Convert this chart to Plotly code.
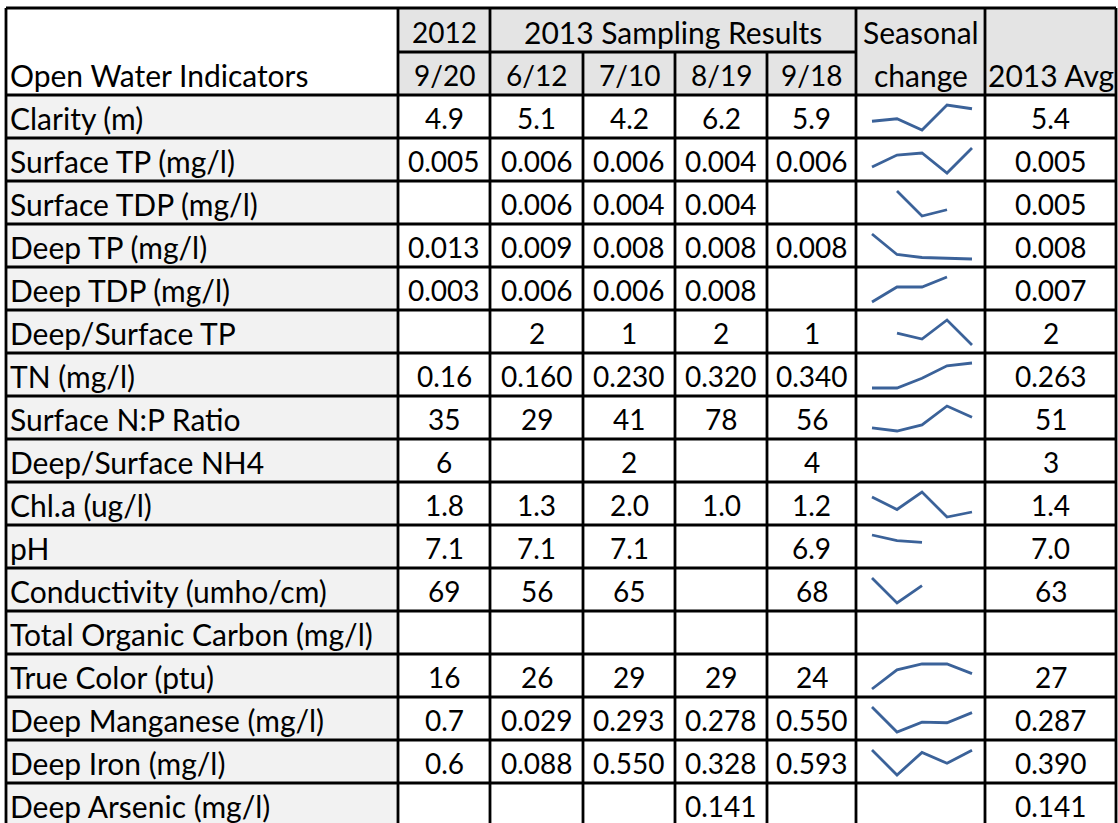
import plotly.graph_objects as go

# ---------------- data ----------------
indicators = [
    "Clarity (m)", "Surface TP (mg/l)", "Surface TDP (mg/l)", "Deep TP (mg/l)",
    "Deep TDP (mg/l)", "Deep/Surface TP", "TN (mg/l)", "Surface N:P Ratio",
    "Deep/Surface NH4", "Chl.a (ug/l)", "pH", "Conductivity (umho/cm)",
    "Total Organic Carbon (mg/l)", "True Color (ptu)", "Deep Manganese (mg/l)",
    "Deep Iron (mg/l)", "Deep Arsenic (mg/l)",
]
dates = ["9/20", "6/12", "7/10", "8/19", "9/18"]
year_2012 = "2012"
group_2013 = "2013 Sampling Results"

val_0920_2012 = ["4.9", "0.005", "", "0.013", "0.003", "", "0.16", "35", "6", "1.8",
                 "7.1", "69", "", "16", "0.7", "0.6", ""]
val_0612 = ["5.1", "0.006", "0.006", "0.009", "0.006", "2", "0.160", "29", "", "1.3",
            "7.1", "56", "", "26", "0.029", "0.088", ""]
val_0710 = ["4.2", "0.006", "0.004", "0.008", "0.006", "1", "0.230", "41", "2", "2.0",
            "7.1", "65", "", "29", "0.293", "0.550", ""]
val_0819 = ["6.2", "0.004", "0.004", "0.008", "0.008", "2", "0.320", "78", "", "1.0",
            "", "", "", "29", "0.278", "0.328", "0.141"]
val_0918 = ["5.9", "0.006", "", "0.008", "", "1", "0.340", "56", "4", "1.2",
            "6.9", "68", "", "24", "0.550", "0.593", ""]
avg_2013 = ["5.4", "0.005", "0.005", "0.008", "0.007", "2", "0.263", "51", "3", "1.4",
            "7.0", "63", "", "27", "0.287", "0.390", "0.141"]

# unrounded values behind the seasonal-change sparklines (None = empty cell)
N = None
spark_clarity = [4.9, 5.1, 4.2, 6.2, 5.9]
spark_surf_tp = [0.00468, 0.00564, 0.0058, 0.0042, 0.0062]
spark_surf_tdp = [N, 0.0060, 0.0040, 0.0045, N]
spark_deep_tp = [0.013, 0.0089, 0.0083, 0.0081, 0.0080]
spark_deep_tdp = [0.003, 0.006, 0.006, 0.008, N]
spark_ds_tp = [N, 1.52, 1.21, 2.2, 0.9]
spark_tn = [0.16, 0.160, 0.230, 0.320, 0.340]
spark_np = [35, 29, 41, 78, 56]
spark_nh4 = [6, N, 2, N, 4]
spark_chla = [1.8, 1.3, 2.0, 1.0, 1.2]
spark_ph = [7.12, 7.07, 7.055, N, 6.9]
spark_cond = [69, 56, 65, N, 68]
spark_toc = [N, N, N, N, N]
spark_color = [16, 26, 29, 29, 24]
spark_mn = [0.7, 0.029, 0.293, 0.278, 0.550]
spark_fe = [0.6, 0.088, 0.550, 0.328, 0.593]
spark_as = [N, N, N, 0.141, N]

sparks = [spark_clarity, spark_surf_tp, spark_surf_tdp, spark_deep_tp, spark_deep_tdp,
          spark_ds_tp, spark_tn, spark_np, spark_nh4, spark_chla, spark_ph, spark_cond,
          spark_toc, spark_color, spark_mn, spark_fe, spark_as]

# ---------------- layout geometry ----------------
W, H = 1118, 823
col_edges = [6, 398, 490, 583, 675, 767, 856, 985, 1116]
hdr_top, hdr_mid, hdr_bot = 8, 52, 95
row_h = 43
FONT = "Lato"
FS_TXT = 30
FS_NUM = 28
HDR_FILL = "#E4E4E4"
LBL_FILL = "#F2F2F2"
LINE_W = 2.8
SPARK_COLOR = "#3B6299"

fig = go.Figure()
shapes = []
annotations = []


def rect(x0, y0, x1, y1, fill):
    shapes.append(dict(type="rect", xref="x", yref="y", x0=x0, x1=x1, y0=y0, y1=y1,
                       fillcolor=fill, line=dict(width=0), layer="below"))


def line(x0, y0, x1, y1):
    shapes.append(dict(type="line", xref="x", yref="y", x0=x0, x1=x1, y0=y0, y1=y1,
                       line=dict(color="black", width=LINE_W), layer="above"))


def text(x, y, s, anchor="center", size=FS_TXT):
    annotations.append(dict(x=x, y=y, xref="x", yref="y", text=s, showarrow=False,
                            xanchor=anchor, yanchor="middle",
                            font=dict(family=FONT, size=size, color="black")))


n_rows = len(indicators)
row_tops = [hdr_bot + i * row_h for i in range(n_rows)]
bottom = hdr_bot + n_rows * row_h

# header fills
rect(col_edges[1], hdr_top, col_edges[8], hdr_bot, HDR_FILL)
# label column fills
rect(col_edges[0], hdr_bot, col_edges[1], bottom, LBL_FILL)

# header texts
dy = 1.5
r1c = (hdr_top + hdr_mid) / 2 + dy
r2c = (hdr_mid + hdr_bot) / 2 + dy
text(col_edges[0] + 2, r2c, "Open Water Indicators", "left")
text((col_edges[1] + col_edges[2]) / 2, r1c, year_2012, size=FS_NUM)
text((col_edges[2] + col_edges[6]) / 2, r1c, group_2013)
for j, d in enumerate(dates):
    text((col_edges[1 + j] + col_edges[2 + j]) / 2, r2c, d, size=FS_NUM)
text((col_edges[6] + col_edges[7]) / 2, r1c, "Seasonal")
text((col_edges[6] + col_edges[7]) / 2, r2c, "change")
text((col_edges[7] + col_edges[8]) / 2, r2c, "2013 Avg")

# body texts
value_cols = [val_0920_2012, val_0612, val_0710, val_0819, val_0918]
for i, name in enumerate(indicators):
    yc = row_tops[i] + row_h / 2 + dy
    text(col_edges[0] + 2, yc, name, "left")
    for j, col in enumerate(value_cols):
        if col[i]:
            text((col_edges[1 + j] + col_edges[2 + j]) / 2, yc, col[i], size=FS_NUM)
    if avg_2013[i]:
        text((col_edges[7] + col_edges[8]) / 2, yc, avg_2013[i], size=FS_NUM)

# grid lines
line(col_edges[0], hdr_top, col_edges[8], hdr_top)
line(col_edges[1], hdr_mid, col_edges[6], hdr_mid)
for y in [hdr_bot] + [t + row_h for t in row_tops]:
    line(col_edges[0], y, col_edges[8], y)
for k, x in enumerate(col_edges):
    y0 = hdr_mid if k in (3, 4, 5) else hdr_top
    line(x, y0, x, bottom)

# sparklines: one small subplot per row
sp_x0, sp_x1 = 872, 972
pad = 2.0
axis_layout = {}
for i, vals in enumerate(sparks):
    k = i + 2
    present = [v for v in vals if v is not None]
    t = row_tops[i] + 10
    b = row_tops[i] + row_h - 8
    if present:
        lo, hi = min(present), max(present)
    else:
        lo, hi = 0.0, 1.0
    span = (hi - lo) if hi > lo else 1.0
    ypad = span * pad / (b - t)
    xpad = 4 * pad / (sp_x1 - sp_x0)
    axis_layout[f"xaxis{k}"] = dict(domain=[(sp_x0 - pad) / W, (sp_x1 + pad) / W],
                                    range=[-xpad, 4 + xpad], visible=False,
                                    anchor=f"y{k}", fixedrange=True)
    axis_layout[f"yaxis{k}"] = dict(domain=[1 - (b + pad) / H, 1 - (t - pad) / H],
                                    range=[lo - ypad, hi + ypad], visible=False,
                                    anchor=f"x{k}", fixedrange=True)
    fig.add_trace(go.Scatter(x=list(range(5)), y=vals, mode="lines", connectgaps=False,
                             line=dict(color=SPARK_COLOR, width=2.8),
                             xaxis=f"x{k}", yaxis=f"y{k}", hoverinfo="skip",
                             showlegend=False))

fig.update_layout(
    width=W, height=H,
    margin=dict(l=0, r=0, t=0, b=0),
    paper_bgcolor="white", plot_bgcolor="white",
    showlegend=False,
    xaxis=dict(domain=[0, 1], range=[0, W], visible=False, fixedrange=True),
    yaxis=dict(domain=[0, 1], range=[H, 0], visible=False, fixedrange=True),
    shapes=shapes,
    annotations=annotations,
    **axis_layout,
)

fig.write_html(
    "out.html",
    config={"displayModeBar": False},
    post_script="document.body.style.margin='0px';document.body.style.overflow='hidden';",
)
